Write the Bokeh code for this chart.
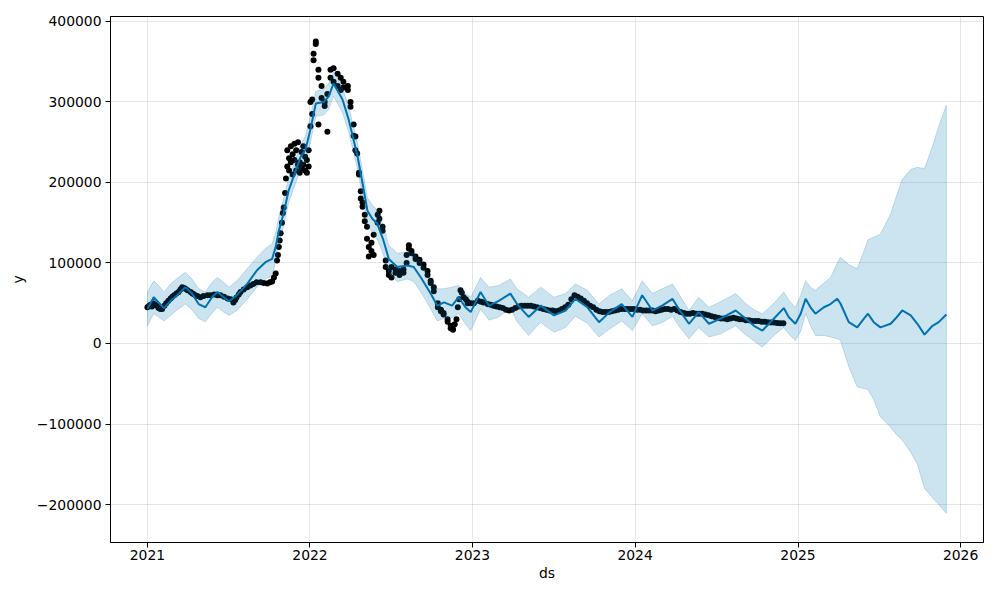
import pandas as pd
from bokeh.plotting import figure
from bokeh.models import FixedTicker, DatetimeTickFormatter, Range1d
from bokeh.embed import file_html
from bokeh.resources import INLINE

START = "2021-01-01"

# Forecast (days since 2021-01-01) with yhat and uncertainty interval
fc_day = [0, 14, 25, 37, 52, 67, 85, 100, 115, 130, 145, 157, 171, 183, 201, 224, 246, 265, 280,
          288, 295, 306, 317, 328, 344, 355, 366, 378, 396, 407, 418, 438, 452, 472, 483, 494,
          505, 516, 530, 542, 561, 584, 598, 614, 636, 651, 666, 684, 699, 714, 726, 748, 767,
          789, 815, 830, 856, 883, 913, 939, 961, 988, 1014, 1038, 1065, 1089, 1111, 1134, 1156,
          1179, 1193, 1216, 1238, 1261, 1287, 1321, 1343, 1362, 1381, 1407, 1429, 1440, 1455,
          1467, 1478, 1489, 1500, 1519, 1534, 1549, 1556, 1575, 1594, 1609, 1618, 1631, 1646,
          1669, 1680, 1695, 1714, 1729, 1745, 1763, 1777, 1794]
yhat = [43000, 57500, 51000, 44000, 53000, 60000, 70000, 62000, 49000, 45000, 57500, 64000,
        57500, 52500, 60000, 74000, 91000, 101000, 105000, 120000, 140000, 162000, 190000,
        207000, 232000, 241000, 266000, 298000, 300000, 307000, 323000, 303000, 278000, 232000,
        199000, 165000, 155000, 149000, 128000, 105000, 95000, 97000, 95000, 82000, 62000, 47000,
        51000, 47000, 57500, 45000, 39000, 64000, 47000, 53000, 62000, 49000, 33000, 47000,
        35000, 41000, 55500, 45000, 26500, 39000, 49000, 33000, 60000, 41000, 47000, 55500,
        43000, 24500, 39000, 24500, 31000, 41000, 31000, 22000, 16000, 31000, 44000, 33000,
        24500, 37000, 55500, 45000, 37000, 45000, 49000, 55500, 50000, 26500, 20000, 31000,
        37000, 26500, 20000, 24500, 31000, 41000, 35000, 24500, 11000, 22000, 26500, 36000]
yhat_lower = [22000, 37000, 33000, 28000, 35000, 42000, 49000, 42000, 31000, 27000, 38000,
              45000, 39000, 35000, 41000, 55000, 70000, 80000, 84000, 102000, 122000, 146000,
              175000, 192000, 217000, 225000, 250000, 282000, 284000, 291000, 307000, 287000,
              262000, 216000, 183000, 149000, 138000, 130000, 110000, 88000, 77000, 80000, 77000,
              64000, 43000, 28000, 31000, 32000, 37000, 24000, 16000, 43000, 29000, 33000, 45000,
              27000, 10000, 26500, 14000, 20000, 34000, 25000, 8000, 18000, 28000, 16000, 37000,
              22000, 26000, 34000, 22000, 6000, 20000, 8000, 12000, 22000, 11000, 3000, -4600,
              10000, 20000, 12000, 3700, 15000, 37000, 22000, 10000, 10000, 8000, 6000, 4000,
              -29000, -54000, -56000, -57000, -70000, -91000, -104000, -112000, -120000, -135000,
              -150000, -180000, -192000, -200000, -211000]
yhat_upper = [64000, 78000, 72000, 64000, 74000, 81000, 88500, 80000, 68000, 64000, 76000,
              82000, 76000, 70000, 78000, 93000, 107000, 118000, 124000, 138000, 158000, 180000,
              205000, 222000, 247000, 258000, 283000, 313000, 316000, 323000, 338000, 318000,
              294000, 248000, 215000, 181000, 172000, 166000, 146000, 122000, 112000, 114000,
              112000, 100000, 80000, 68000, 68000, 70000, 72000, 62000, 57500, 82000, 70000,
              72000, 80000, 68000, 57500, 70000, 57500, 62000, 74000, 66000, 49000, 60000, 68000,
              53000, 78000, 62000, 68000, 74000, 62000, 41000, 57500, 45000, 52000, 62000, 50000,
              42000, 37000, 50000, 64000, 54000, 45000, 60000, 78000, 70000, 66000, 75000, 82000,
              100000, 107000, 98000, 93000, 115000, 129000, 132000, 136000, 161000, 180000,
              204000, 216000, 219000, 217000, 245000, 270000, 296000]

# Observed data points (days since 2021-01-01, y)
obs_day = [0, 4, 7, 10, 13, 17, 21, 25, 29, 33, 38, 42, 47, 52, 56, 60, 65, 70, 74, 78, 82, 85,
           90, 97, 101, 105, 112, 119, 126, 135, 142, 150, 157, 164, 172, 180, 187, 193, 197,
           200, 205, 209, 216, 224, 231, 238, 245, 254, 261, 269, 275, 280, 284, 288, 291, 293,
           295, 297, 299, 302, 304, 306, 309, 311,
           314, 314, 318, 318, 322, 322, 326, 326, 330, 330, 334, 334, 338, 338, 342, 342, 346,
           346, 350, 350, 354, 354, 358, 358, 362, 362, 366, 366,
           370, 370, 373, 373, 378, 378, 384, 384, 384, 391, 391, 398, 398, 404, 404, 411, 411,
           418, 418, 427, 427, 434, 434, 440, 440, 450, 450, 456, 456, 463, 463, 467, 467, 471,
           475, 475, 479, 479, 483, 483, 488, 488, 493, 493, 497, 497, 503, 503, 508, 508, 517,
           517, 521, 521, 528, 528, 535, 535, 542, 542, 548, 548, 557, 557, 566, 566, 575, 575,
           582, 582, 587, 587, 593, 593, 602, 602, 611, 611, 620, 620, 629, 629, 636, 636, 643,
           643, 652, 652, 659, 659, 665, 665, 674, 674, 681, 681, 686, 686, 690, 694, 697, 700,
           703, 706, 710, 715, 719, 719, 726, 733, 742, 749, 755, 764, 771,
           777, 784, 791, 798, 805, 812, 819, 826, 833, 840, 847, 854, 861, 868, 875, 882, 889,
           896, 903, 910, 917, 924, 931, 938, 945, 952, 959, 966, 973, 980, 987, 994, 1001, 1008,
           1015, 1022, 1029, 1036, 1043, 1050, 1057, 1064, 1071, 1078, 1085, 1092, 1099, 1106,
           1113, 1120, 1127, 1134, 1141, 1148, 1155, 1162, 1169, 1176, 1183, 1190, 1197, 1204,
           1211, 1218, 1225, 1232, 1239, 1246, 1253, 1260, 1267, 1274, 1281, 1288, 1295, 1302,
           1309, 1316, 1323, 1330, 1337, 1344, 1351, 1358, 1365, 1372, 1379, 1386, 1393, 1400,
           1407, 1414, 1421, 1428]
obs_y = [45000, 47000, 48000, 46000, 50000, 48000, 47000, 44000, 43000, 43000, 47000, 50000,
         53000, 56000, 58000, 60000, 62000, 64000, 67000, 70000, 69000, 68000, 66000, 64000,
         62000, 61000, 59000, 57500, 59000, 60000, 60000, 61000, 60000, 60000, 58000, 56000,
         55000, 51000, 54000, 57000, 61000, 64000, 67000, 70000, 72000, 74000, 76000, 76000,
         75000, 74500, 76000, 77000, 82000, 87000, 103000, 110000, 120000, 128000, 137000,
         150000, 162000, 169000, 187000, 205000,
         220000, 240000, 230000, 215000, 245000, 225000, 210000, 235000, 228000, 248000, 215000,
         240000, 250000, 222000, 225000, 212000, 238000, 218000, 222000, 245000, 215000, 232000,
         228000, 212000, 240000, 220000, 270000, 300000,
         303000, 285000, 352000, 360000, 375000, 372000, 340000, 330000, 272000, 320000, 305000,
         300000, 295000, 263000, 310000, 340000, 330000, 342000, 325000, 320000, 335000, 330000,
         315000, 325000, 318000, 320000, 315000, 294000, 300000, 272000, 258000, 257000, 240000,
         236000, 210000, 212000, 189000, 180000, 170000, 175000, 152000, 160000, 130000, 145000,
         120000, 108000, 125000, 115000, 135000, 110000, 160000, 150000, 155000, 165000, 145000,
         140000, 103000, 95000, 90000, 85000, 95000, 82000, 88000, 92000, 85000, 90000, 92000,
         88000, 110000, 100000, 122000, 118000, 115000, 112000, 108000, 105000, 104000, 100000,
         98000, 94000, 90000, 85000, 75000, 78000, 65000, 70000, 50000, 45000, 42000, 40000,
         38000, 36000, 30000, 27000, 22000, 19000, 18000, 17000, 24000, 30000, 45000, 55000,
         66000, 63000, 57500, 55000, 52000, 50000, 50000, 50000, 53000, 52000, 51000, 49000,
         48000,
         47000, 46000, 45000, 44000, 42000, 41000, 42000, 44000, 46000, 47000, 47000, 47000,
         47000, 46000, 45000, 44000, 43000, 42000, 41000, 41000, 40000, 41000, 43000, 45000,
         48000, 55000, 60000, 58000, 56000, 53000, 50000, 47000, 45000, 42000, 40000, 39000,
         39000, 39000, 40000, 41000, 42000, 43000, 43000, 43000, 43000, 43000, 42000, 42000,
         41000, 41000, 41000, 41000, 40000, 41000, 42000, 43000, 43000, 42000, 43000, 41000,
         39000, 38000, 37000, 37000, 38000, 37000, 37000, 37000, 36000, 35000, 34000, 33000,
         32000, 31000, 31000, 30000, 31000, 32000, 31000, 30000, 30000, 29000, 29000, 28000,
         28000, 28000, 27000, 27000, 26500, 26000, 26000, 25500, 25000, 25000]

y_ticks = [-200000, -100000, 0, 100000, 200000, 300000, 400000]
x_tick_years = [2021, 2022, 2023, 2024, 2025, 2026]

start = pd.Timestamp(START)
fc_x = list(start + pd.to_timedelta(fc_day, unit="D"))
obs_x = list(start + pd.to_timedelta(obs_day, unit="D"))

FONT = "DejaVu Sans"
p = figure(width=984, height=584, x_axis_type="datetime", output_backend="svg",
           toolbar_location=None,
           x_range=Range1d(pd.Timestamp("2020-10-10"), pd.Timestamp("2026-02-21 12:00")),
           y_range=Range1d(-247200, 406200),
           min_border_left=110, min_border_right=1, min_border_top=16, min_border_bottom=42)
p.background_fill_color = "white"
p.border_fill_color = "white"
p.outline_line_color = "black"
p.outline_line_alpha = 1.0
p.outline_line_width = 1

# observed
p.scatter(obs_x, obs_y, size=6, color="black", line_width=0)
# forecast line
p.line(fc_x, yhat, color="#0072B2", line_width=2)
# uncertainty band
px = fc_x + fc_x[::-1]
py = yhat_upper + yhat_lower[::-1]
p.patch(px, py, fill_color="#0072B2", fill_alpha=0.2, line_color="#0072B2",
        line_alpha=0.2, line_width=1)

# axes
ms = [pd.Timestamp(f"{y}-01-01").value // 10**6 for y in x_tick_years]
p.xaxis.ticker = FixedTicker(ticks=ms)
p.xaxis.formatter = DatetimeTickFormatter(years="%Y", months="%Y", days="%Y", hours="%Y",
                                          minutes="%Y", seconds="%Y", milliseconds="%Y",
                                          microseconds="%Y")
p.yaxis.ticker = FixedTicker(ticks=y_ticks)
p.yaxis.major_label_overrides = {v: (str(v).replace("-", "\u2212")) for v in y_ticks}

for ax in (p.xaxis[0], p.yaxis[0]):
    ax.major_label_text_font = FONT
    ax.major_label_text_font_size = "13.9px"
    ax.major_label_text_color = "black"
    ax.major_label_text_line_height = 1.0
    ax.axis_label_text_font = FONT
    ax.axis_label_text_font_size = "13.9px"
    ax.axis_label_text_font_style = "normal"
    ax.axis_label_text_color = "black"
    ax.axis_label_text_line_height = 1.0
    ax.axis_line_color = "black"
    ax.major_tick_line_color = "black"
    ax.major_tick_out = 5
    ax.major_tick_in = 0
    ax.minor_tick_line_color = None
p.xaxis.major_label_standoff = 2
p.xaxis.axis_label_standoff = 2
p.yaxis.major_label_standoff = 4
p.yaxis.axis_label_standoff = 8

p.xaxis.axis_label = "ds"
p.yaxis.axis_label = "y"

p.xgrid.grid_line_color = "gray"
p.xgrid.grid_line_alpha = 0.2
p.xgrid.grid_line_width = 1
p.ygrid.grid_line_color = "gray"
p.ygrid.grid_line_alpha = 0.2
p.ygrid.grid_line_width = 1

open("out.html", "w").write(file_html(p, INLINE))
